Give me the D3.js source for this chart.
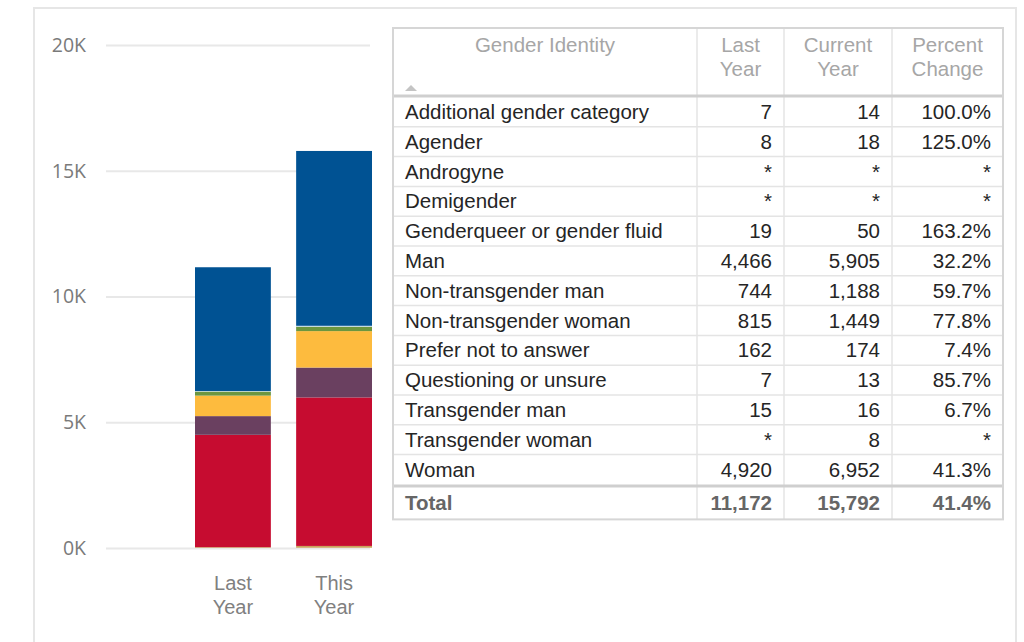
<!DOCTYPE html>
<html>
<head>
<meta charset="utf-8">
<script src="https://cdn.jsdelivr.net/npm/d3@7"></script>
<style>
  html, body { margin: 0; padding: 0; background: #fff; }
  svg { display: block; }
</style>
</head>
<body>
<svg id="chart" width="1024" height="642"></svg>
<script>
// Gender identity counts, last year vs current year (null = suppressed "*")
const categories = [
  "Additional gender category", "Agender", "Androgyne", "Demigender",
  "Genderqueer or gender fluid", "Man", "Non-transgender man",
  "Non-transgender woman", "Prefer not to answer", "Questioning or unsure",
  "Transgender man", "Transgender woman", "Woman"
];
const lastYear    = [7, 8, null, null, 19, 4466, 744, 815, 162, 7, 15, null, 4920];
const currentYear = [14, 18, null, null, 50, 5905, 1188, 1449, 174, 13, 16, 8, 6952];
const totalLast = 11172;
const totalCurrent = 15792;

const barLabels = ["Last Year", "This Year"];
const yTicks = [0, 5000, 10000, 15000, 20000];
const headerLabels = [["Gender Identity"], ["Last", "Year"], ["Current", "Year"], ["Percent", "Change"]];

const colors = {
  "Additional gender category": "#d4a24c",
  "Agender": "#c49a52",
  "Androgyne": "#b8924e",
  "Demigender": "#a98a50",
  "Genderqueer or gender fluid": "#c9a15a",
  "Man": "#c60c30",
  "Non-transgender man": "#6a4060",
  "Non-transgender woman": "#fdbb3e",
  "Prefer not to answer": "#6b963f",
  "Questioning or unsure": "#a9c9df",
  "Transgender man": "#c4dbea",
  "Transgender woman": "#d6e6f0",
  "Woman": "#005293"
};

const svg = d3.select("#chart");

// outer frame
svg.append("path")
  .attr("d", "M34,642 V8 H1016 V642")
  .attr("fill", "none").attr("stroke", "#e6e6e6").attr("stroke-width", 2);

// ---------- stacked bars ----------
const y = d3.scaleLinear().domain([0, 20000]).range([548, 45]);
const x = d3.scaleBand().domain(barLabels).range([195, 372]).paddingInner(0.25).paddingOuter(0);

const rows = barLabels.map((b, j) => {
  const o = { key: b };
  categories.forEach((c, i) => { o[c] = (j === 0 ? lastYear[i] : currentYear[i]) || 0; });
  return o;
});
const stacked = d3.stack().keys(categories)(rows);

// gridlines + y labels
const yAxis = d3.axisLeft(y).tickValues(yTicks).tickSize(0).tickPadding(20)
  .tickFormat(d => d3.format("d")(d / 1000) + "K");
const gy = svg.append("g").attr("transform", "translate(106,0)").call(yAxis);
gy.select(".domain").remove();
gy.selectAll(".tick text")
  .attr("font-family", "'Open Sans', 'Noto Sans', sans-serif")
  .attr("font-size", 19.5).attr("fill", "#7a7a7a");
gy.selectAll(".tick").append("line")
  .attr("x1", 0).attr("x2", 264)
  .attr("stroke", "#e8e8e8").attr("stroke-width", 2);

svg.append("g").selectAll("g").data(stacked).join("g")
  .attr("fill", d => colors[d.key])
  .selectAll("rect").data(d => d).join("rect")
  .attr("x", d => x(d.data.key))
  .attr("width", x.bandwidth())
  .attr("y", d => y(d[1]))
  .attr("height", d => Math.max(0, y(d[0]) - y(d[1])));

// x labels
const xl = svg.append("g");
barLabels.forEach(b => {
  const cx = x(b) + x.bandwidth() / 2;
  const t = xl.append("text")
    .attr("text-anchor", "middle")
    .attr("font-family", "'Liberation Sans', Arial, sans-serif")
    .attr("font-size", 20).attr("fill", "#808080");
  b.split(" ").forEach((w, k) => t.append("tspan").attr("x", cx).attr("y", 590 + k * 24).text(w));
});

// ---------- table ----------
const colX = [393, 697, 784, 892, 1003];
const headTop = 28, headBot = 96, bodyTop = 97, rowH = 29.8;
const bodyBot = bodyTop + rowH * categories.length;
const totTop = bodyBot + 3, totBot = totTop + 32;
const fontFam = "'Liberation Sans', Arial, sans-serif";
const fs = 20.5;
const fmt = d3.format(",");
const pct = (a, b) => (a == null || b == null) ? "*" : d3.format(".1f")((b / a - 1) * 100) + "%";
const val = v => v == null ? "*" : fmt(v);

const tbl = svg.append("g");

// horizontal row lines
d3.range(1, categories.length).forEach(i => {
  tbl.append("line").attr("x1", colX[0]).attr("x2", colX[4])
    .attr("y1", bodyTop + i * rowH).attr("y2", bodyTop + i * rowH)
    .attr("stroke", "#e4e4e4").attr("stroke-width", 1.5);
});
// vertical column lines
colX.slice(1, 4).forEach(cx => {
  tbl.append("line").attr("x1", cx).attr("x2", cx).attr("y1", headTop).attr("y2", totBot)
    .attr("stroke", "#e4e4e4").attr("stroke-width", 1.5);
});
// header separator and total separator (thick)
[headBot, bodyBot + 1.5].forEach(yy => {
  tbl.append("line").attr("x1", colX[0]).attr("x2", colX[4]).attr("y1", yy).attr("y2", yy)
    .attr("stroke", "#cfcfcf").attr("stroke-width", 3);
});
// outer border
tbl.append("rect").attr("x", colX[0]).attr("y", headTop)
  .attr("width", colX[4] - colX[0]).attr("height", totBot - headTop)
  .attr("fill", "none").attr("stroke", "#d6d6d6").attr("stroke-width", 2);

// header text
headerLabels.forEach((lines, c) => {
  const cx = (colX[c] + colX[c + 1]) / 2;
  lines.forEach((ln, k) => {
    tbl.append("text").attr("x", cx).attr("y", 52 + k * 24)
      .attr("text-anchor", "middle").attr("font-family", fontFam)
      .attr("font-size", fs).attr("fill", "#a6a6a6").text(ln);
  });
});
// sort indicator
tbl.append("path").attr("d", "M405,91 L411,85 L417,91 Z").attr("fill", "#c4c4c4");

// body rows
categories.forEach((c, i) => {
  const cy = bodyTop + i * rowH + rowH / 2 + 7;
  tbl.append("text").attr("x", colX[0] + 12).attr("y", cy)
    .attr("font-family", fontFam).attr("font-size", fs).attr("fill", "#252525").text(c);
  const cells = [val(lastYear[i]), val(currentYear[i]), pct(lastYear[i], currentYear[i])];
  cells.forEach((t, k) => {
    tbl.append("text").attr("x", colX[k + 2] - 12).attr("y", cy)
      .attr("text-anchor", "end").attr("font-family", fontFam)
      .attr("font-size", fs).attr("fill", "#252525").text(t);
  });
});

// total row
const ty = (totTop + totBot) / 2 + 7;
tbl.append("text").attr("x", colX[0] + 12).attr("y", ty)
  .attr("font-family", fontFam).attr("font-size", fs).attr("font-weight", "bold")
  .attr("fill", "#666").text("Total");
[fmt(totalLast), fmt(totalCurrent), pct(totalLast, totalCurrent)].forEach((t, k) => {
  tbl.append("text").attr("x", colX[k + 2] - 12).attr("y", ty)
    .attr("text-anchor", "end").attr("font-family", fontFam)
    .attr("font-size", fs).attr("font-weight", "bold").attr("fill", "#666").text(t);
});
</script>
</body>
</html>
